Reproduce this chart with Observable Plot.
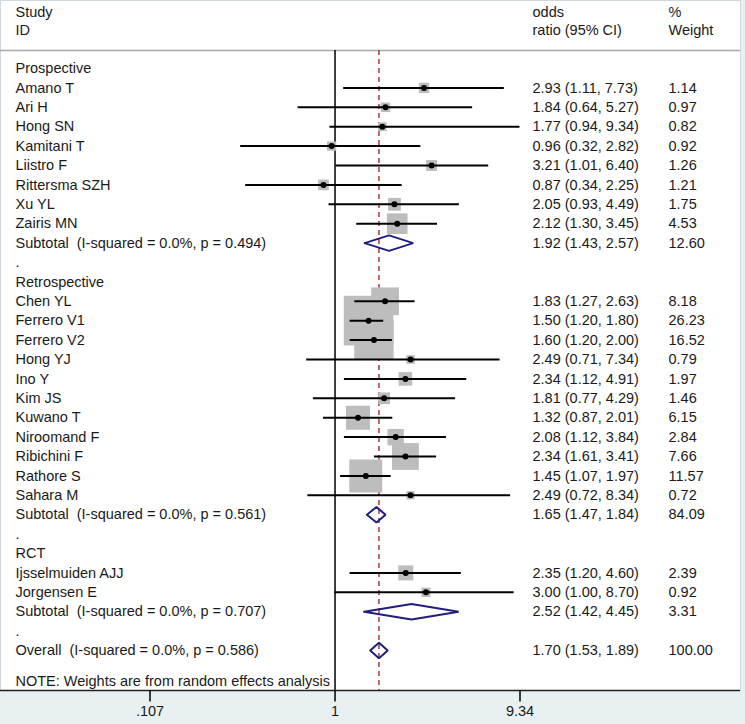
<!DOCTYPE html>
<html><head><meta charset="utf-8">
<script src="https://cdn.jsdelivr.net/npm/d3@7"></script>
<script src="https://cdn.jsdelivr.net/npm/@observablehq/plot@0.6"></script>
<style>
body{margin:0;background:#e9f0f2}
#chart{width:745px;height:724px}
</style>
</head><body><div id="chart"></div>
<script>
// ---- data ----
const groups = ["Prospective", "Retrospective", "RCT"];
const studyNames = ["Amano T","Ari H","Hong SN","Kamitani T","Liistro F","Rittersma SZH","Xu YL","Zairis MN",
  "Chen YL","Ferrero V1","Ferrero V2","Hong YJ","Ino Y","Kim JS","Kuwano T","Niroomand F","Ribichini F","Rathore S","Sahara M",
  "Ijsselmuiden AJJ","Jorgensen E"];
const studyGroup = ["Prospective","Prospective","Prospective","Prospective","Prospective","Prospective","Prospective","Prospective",
  "Retrospective","Retrospective","Retrospective","Retrospective","Retrospective","Retrospective","Retrospective","Retrospective","Retrospective","Retrospective","Retrospective",
  "RCT","RCT"];
const studyOR    = [2.93,1.84,1.77,0.96,3.21,0.87,2.05,2.12, 1.83,1.50,1.60,2.49,2.34,1.81,1.32,2.08,2.34,1.45,2.49, 2.35,3.00];
const studyLower = [1.11,0.64,0.94,0.32,1.01,0.34,0.93,1.30, 1.27,1.20,1.20,0.71,1.12,0.77,0.87,1.12,1.61,1.07,0.72, 1.20,1.00];
const studyUpper = [7.73,5.27,9.34,2.82,6.40,2.25,4.49,3.45, 2.63,1.80,2.00,7.34,4.91,4.29,2.01,3.84,3.41,1.97,8.34, 4.60,8.70];
const studyWeight= [1.14,0.97,0.82,0.92,1.26,1.21,1.75,4.53, 8.18,26.23,16.52,0.79,1.97,1.46,6.15,2.84,7.66,11.57,0.72, 2.39,0.92];

const subtotalI2     = ["0.0%","0.0%","0.0%"];
const subtotalP      = ["0.494","0.561","0.707"];
const subtotalOR     = [1.92,1.65,2.52];
const subtotalLower  = [1.43,1.47,1.42];
const subtotalUpper  = [2.57,1.84,4.45];
const subtotalWeight = [12.60,84.09,3.31];

const overallI2 = "0.0%", overallP = "0.586";
const overallOR = 1.70, overallLower = 1.53, overallUpper = 1.89, overallWeight = 100.00;

const tickValues = [0.107, 1, 9.34];
const tickLabels = [".107", "1", "9.34"];
const headerStudy = ["Study", "ID"];
const headerOR = ["odds", "ratio (95% CI)"];
const headerWeight = ["%", "Weight"];
const noteText = "NOTE: Weights are from random effects analysis";

// ---- layout rows ----
const headerRows = [-2.9, -1.95];
const topRuleRow = -0.93;
const noteRow = 31.6;
const axisRow = 32.06;
const tickEndRow = 32.65;

const fmt = v => v.toFixed(2);
const rows = [];
const studyRows = [];
const summaryRows = [];
let r = 0;
groups.forEach((g, gi) => {
  rows.push({row: r++, label: g});
  studyNames.forEach((name, i) => {
    if (studyGroup[i] !== g) return;
    const d = {row: r++, label: name, or: studyOR[i], lo: studyLower[i], hi: studyUpper[i], w: studyWeight[i]};
    rows.push(d); studyRows.push(d);
  });
  const s = {row: r++, label: `Subtotal\u00a0 (I-squared = ${subtotalI2[gi]}, p = ${subtotalP[gi]})`,
    or: subtotalOR[gi], lo: subtotalLower[gi], hi: subtotalUpper[gi], w: subtotalWeight[gi]};
  rows.push(s); summaryRows.push(s);
  rows.push({row: r++, label: "."});
});
const ov = {row: r++, label: `Overall\u00a0 (I-squared = ${overallI2}, p = ${overallP})`,
  or: overallOR, lo: overallLower, hi: overallUpper, w: overallWeight};
rows.push(ov); summaryRows.push(ov);

const valueRows = rows.filter(d => d.or !== undefined);
const halfH = 0.4;
const diamondPts = summaryRows.flatMap((d, i) => [
  {id: i, x: d.lo, y: d.row},
  {id: i, x: d.or, y: d.row - halfH},
  {id: i, x: d.hi, y: d.row},
  {id: i, x: d.or, y: d.row + halfH},
  {id: i, x: d.lo, y: d.row}
]);

const FS = 14.5;
const textColor = "#1a1a1a";
const headerData = [0, 1].map(i => ({row: headerRows[i], a: headerStudy[i], b: headerOR[i], c: headerWeight[i]}));
const ticks = tickValues.map((v, i) => ({v, label: tickLabels[i]}));

const chart = Plot.plot({
  width: 745, height: 724,
  marginLeft: 0, marginRight: 5, marginTop: 0, marginBottom: 34,
  style: {background: "#e9f0f2", fontFamily: "'Liberation Sans', Arial, sans-serif", fontSize: FS + "px", color: "#111"},
  x: {type: "log", domain: [0.107, 9.34], range: [149.5, 519.5], axis: null},
  y: {domain: [0, 30], range: [68, 650], axis: null},
  r: {type: "sqrt", domain: [0, 100], range: [0, 54.7]},
  marks: [
    Plot.frame({fill: "white", stroke: "#cfd8dc"}),
    Plot.ruleY([topRuleRow], {stroke: "#a8a8a8", strokeWidth: 1.5}),
    Plot.ruleX([1], {y1: topRuleRow, y2: axisRow, stroke: "#000", strokeWidth: 1.5}),
    Plot.ruleX([overallOR], {y1: topRuleRow, y2: axisRow, stroke: "#a3393d", strokeWidth: 1.5, strokeDasharray: "5,4"}),
    Plot.dot(studyRows, {x: "or", y: "row", r: "w", symbol: "square", fill: "#bdbdbd", stroke: null}),
    Plot.ruleY(studyRows, {x1: "lo", x2: "hi", y: "row", stroke: "#000", strokeWidth: 2}),
    Plot.dot(studyRows, {x: "or", y: "row", r: 3, fill: "#000", stroke: null}),
    Plot.line(diamondPts, {x: "x", y: "y", z: "id", stroke: "#1f1f7c", strokeWidth: 2, strokeLinejoin: "miter"}),
    // text columns
    Plot.text(headerData, {y: "row", text: "a", frameAnchor: "left", dx: 15, textAnchor: "start", fontSize: FS, fill: textColor}),
    Plot.text(headerData, {y: "row", text: "b", frameAnchor: "left", dx: 532, textAnchor: "start", fontSize: FS, fill: textColor}),
    Plot.text(headerData, {y: "row", text: "c", frameAnchor: "left", dx: 668, textAnchor: "start", fontSize: FS, fill: textColor}),
    Plot.text(rows, {y: "row", text: "label", frameAnchor: "left", dx: 15, textAnchor: "start", fontSize: FS, fill: textColor}),
    Plot.text(valueRows, {y: "row", text: d => `${fmt(d.or)} (${fmt(d.lo)}, ${fmt(d.hi)})`, frameAnchor: "left", dx: 532, textAnchor: "start", fontSize: FS, fill: textColor}),
    Plot.text(valueRows, {y: "row", text: d => fmt(d.w), frameAnchor: "left", dx: 668, textAnchor: "start", fontSize: FS, fill: textColor}),
    Plot.text([noteText], {y: noteRow, text: d => d, frameAnchor: "left", dx: 15, textAnchor: "start", fontSize: FS, fill: textColor}),
    // x axis
    Plot.ruleY([axisRow], {stroke: "#222", strokeWidth: 1.5}),
    Plot.ruleX(ticks, {x: "v", y1: axisRow, y2: tickEndRow, stroke: "#000", strokeWidth: 1.5}),
    Plot.text(ticks, {x: "v", text: "label", frameAnchor: "bottom", dy: 25, fontSize: FS, fill: textColor})
  ]
});
document.getElementById("chart").appendChild(chart);
</script>
</body></html>
